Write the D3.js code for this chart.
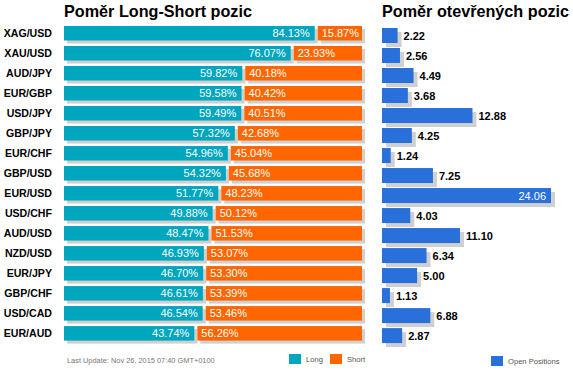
<!DOCTYPE html>
<html lang="cs">
<head>
<meta charset="UTF-8">
<title>Poměr Long-Short pozic</title>
<script src="https://d3js.org/d3.v7.min.js"></script>
<style>
    body { margin: 0; background: #fff; font-family: "Liberation Sans", Arial, sans-serif; }
    svg { display: block; }
</style>
</head>
<body>
<div id="chart"></div>
<script>
    const pairs = ['XAG/USD', 'XAU/USD', 'AUD/JPY', 'EUR/GBP', 'USD/JPY', 'GBP/JPY', 'EUR/CHF', 'GBP/USD',
                   'EUR/USD', 'USD/CHF', 'AUD/USD', 'NZD/USD', 'EUR/JPY', 'GBP/CHF', 'USD/CAD', 'EUR/AUD'];
    const longPct = [84.13, 76.07, 59.82, 59.58, 59.49, 57.32, 54.96, 54.32, 51.77, 49.88, 48.47, 46.93, 46.70, 46.61, 46.54, 43.74];
    const shortPct = [15.87, 23.93, 40.18, 40.42, 40.51, 42.68, 45.04, 45.68, 48.23, 50.12, 51.53, 53.07, 53.30, 53.39, 53.46, 56.26];
    const openPos = [2.22, 2.56, 4.49, 3.68, 12.88, 4.25, 1.24, 7.25, 24.06, 4.03, 11.10, 6.34, 5.00, 1.13, 6.88, 2.87];

    const W = 573, H = 375;
    const cyan = '#00a5be', orange = '#ff6600', blue = '#2970da', shade = '#d0d0d0';

    const rows = pairs.map((p, i) => ({ pair: p, long: longPct[i], short: shortPct[i], open: openPos[i] }));

    const svg = d3.select('#chart').append('svg')
        .attr('width', W).attr('height', H);

    const y = d3.scaleBand().domain(pairs).range([26, 340.6]).paddingInner(0.275).paddingOuter(0);

    // levý graf
    const x0 = 64;
    const x = d3.scaleLinear().domain([0, 100]).range([0, 298]);

    svg.append('text').attr('x', 64).attr('y', 17)
        .attr('font-size', 16.2).attr('font-weight', 'bold').attr('fill', '#000')
        .text('Poměr Long-Short pozic');

    const left = svg.append('g');
    const row = left.selectAll('g').data(rows).enter().append('g')
        .attr('transform', d => `translate(0,${y(d.pair)})`);

    row.append('text').attr('x', 52).attr('y', y.bandwidth() / 2 + 4)
        .attr('text-anchor', 'end').attr('font-size', 10.6).attr('font-weight', 'bold')
        .text(d => d.pair);

    // stíny
    row.append('rect').attr('x', x0 + 3).attr('y', 3)
        .attr('width', d => x(d.long)).attr('height', y.bandwidth()).attr('fill', shade);
    row.append('rect').attr('x', d => x0 + x(d.long) + 6).attr('y', 3)
        .attr('width', d => x(d.short) - 3).attr('height', y.bandwidth()).attr('fill', shade);

    row.append('rect').attr('x', x0).attr('y', 0)
        .attr('width', d => x(d.long)).attr('height', y.bandwidth()).attr('fill', cyan);
    row.append('rect').attr('x', d => x0 + x(d.long) + 3).attr('y', 0)
        .attr('width', d => x(d.short) - 3).attr('height', y.bandwidth()).attr('fill', orange);

    row.append('text').attr('x', d => x0 + x(d.long) - 5).attr('y', y.bandwidth() / 2 + 4)
        .attr('text-anchor', 'end').attr('font-size', 11).attr('fill', '#fff')
        .text(d => d.long.toFixed(2) + '%');
    row.append('text').attr('x', d => x0 + x(d.long) + 7).attr('y', y.bandwidth() / 2 + 4)
        .attr('font-size', 11).attr('fill', '#fff')
        .text(d => d.short.toFixed(2) + '%');

    // pravý graf
    const r0 = 382;
    const xr = d3.scaleLinear().domain([0, d3.max(openPos)]).range([0, 169]);

    svg.append('text').attr('x', 382).attr('y', 17)
        .attr('font-size', 16.2).attr('font-weight', 'bold').attr('fill', '#000')
        .text('Poměr otevřených pozic');

    const right = svg.append('g');
    const rrow = right.selectAll('g').data(rows).enter().append('g')
        .attr('transform', d => `translate(0,${y(d.pair) + 2})`);

    rrow.append('rect').attr('x', r0 + 4).attr('y', 4)
        .attr('width', d => xr(d.open)).attr('height', 15).attr('fill', shade);
    rrow.append('rect').attr('x', r0).attr('y', 0)
        .attr('width', d => xr(d.open)).attr('height', 15).attr('fill', blue);

    const inside = d => xr(d.open) > 120;
    rrow.append('text')
        .attr('x', d => inside(d) ? r0 + xr(d.open) - 5 : r0 + xr(d.open) + 6)
        .attr('y', 11.5)
        .attr('text-anchor', d => inside(d) ? 'end' : 'start')
        .attr('font-size', 11)
        .attr('font-weight', d => inside(d) ? 'normal' : 'bold')
        .attr('fill', d => inside(d) ? '#fff' : '#000')
        .text(d => d.open.toFixed(2));

    // patička a legenda
    svg.append('text').attr('x', 67).attr('y', 363)
        .attr('font-size', 7.4).attr('fill', '#777')
        .text('Last Update: Nov 26, 2015 07:40 GMT+0100');

    const legend = [
        { label: 'Long', color: cyan, x: 289, y: 354 },
        { label: 'Short', color: orange, x: 330, y: 354 },
        { label: 'Open Positions', color: blue, x: 491, y: 356 }
    ];
    const lg = svg.append('g').selectAll('g').data(legend).enter().append('g')
        .attr('transform', d => `translate(${d.x},${d.y})`);
    lg.append('rect').attr('width', 12).attr('height', 10).attr('fill', d => d.color);
    lg.append('text').attr('x', 17).attr('y', 7.8)
        .attr('font-size', 7.6).attr('fill', '#555').text(d => d.label);
</script>
</body>
</html>
